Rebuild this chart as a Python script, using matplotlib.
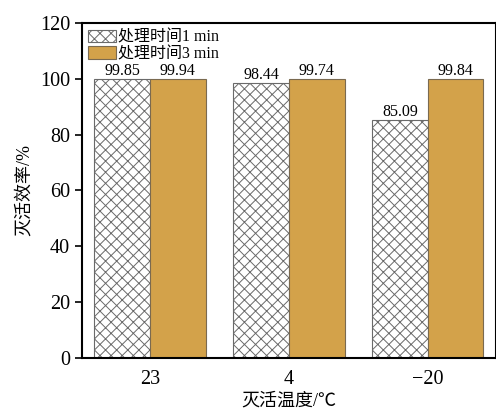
import numpy as np
import matplotlib
matplotlib.use('Agg')
import matplotlib.pyplot as plt

plt.rcParams['font.family'] = ['Liberation Serif', 'Noto Sans CJK SC']
plt.rcParams['hatch.linewidth'] = 0.7
plt.rcParams['axes.unicode_minus'] = True

# 数据
temps = ['23', '4', '\u221220']
eff_1min = [99.85, 98.44, 85.09]
eff_3min = [99.94, 99.74, 99.84]
labels = ['处理时间1 min', '处理时间3 min']

x = np.arange(len(temps))
w = 0.4

fig = plt.figure(figsize=(4.96, 4.09), dpi=100)
ax = fig.add_axes([0.165, 0.125, 0.835, 0.819])

b1 = ax.bar(x - w / 2, eff_1min, w, color='white', edgecolor='#6a6a6a',
            hatch='xxx', linewidth=0.8, label=labels[0])
b2 = ax.bar(x + w / 2, eff_3min, w, color='#D3A24A', edgecolor='#7a6a50',
            linewidth=0.8, label=labels[1])

for bars, vals in [(b1, eff_1min), (b2, eff_3min)]:
    for b, v in zip(bars, vals):
        ax.text(b.get_x() + b.get_width() / 2, v, f'{v:.2f}',
                ha='center', va='bottom', fontsize=11.5)

ax.set_xlim(-0.49, 2.49)
ax.set_ylim(0, 120)
ax.set_yticks(np.arange(0, 121, 20))
ax.set_xticks(x)
ax.set_xticklabels(temps)
ax.tick_params(axis='x', length=0, labelsize=14.5, pad=9)
ax.tick_params(axis='y', direction='out', length=5, width=1.2, labelsize=14.5)
for s in ax.spines.values():
    s.set_linewidth(1.5)

ax.set_ylabel('灭活效率/%', fontsize=13, labelpad=5)
ax.set_xlabel('灭活温度/℃', fontsize=13, labelpad=2)

ax.legend(loc='upper left', frameon=False, fontsize=11.5, handlelength=1.75,
          handleheight=0.8, borderaxespad=0.2, labelspacing=0.05,
          handletextpad=0.1, borderpad=0.2)

fig.savefig('out.png', dpi=100)
